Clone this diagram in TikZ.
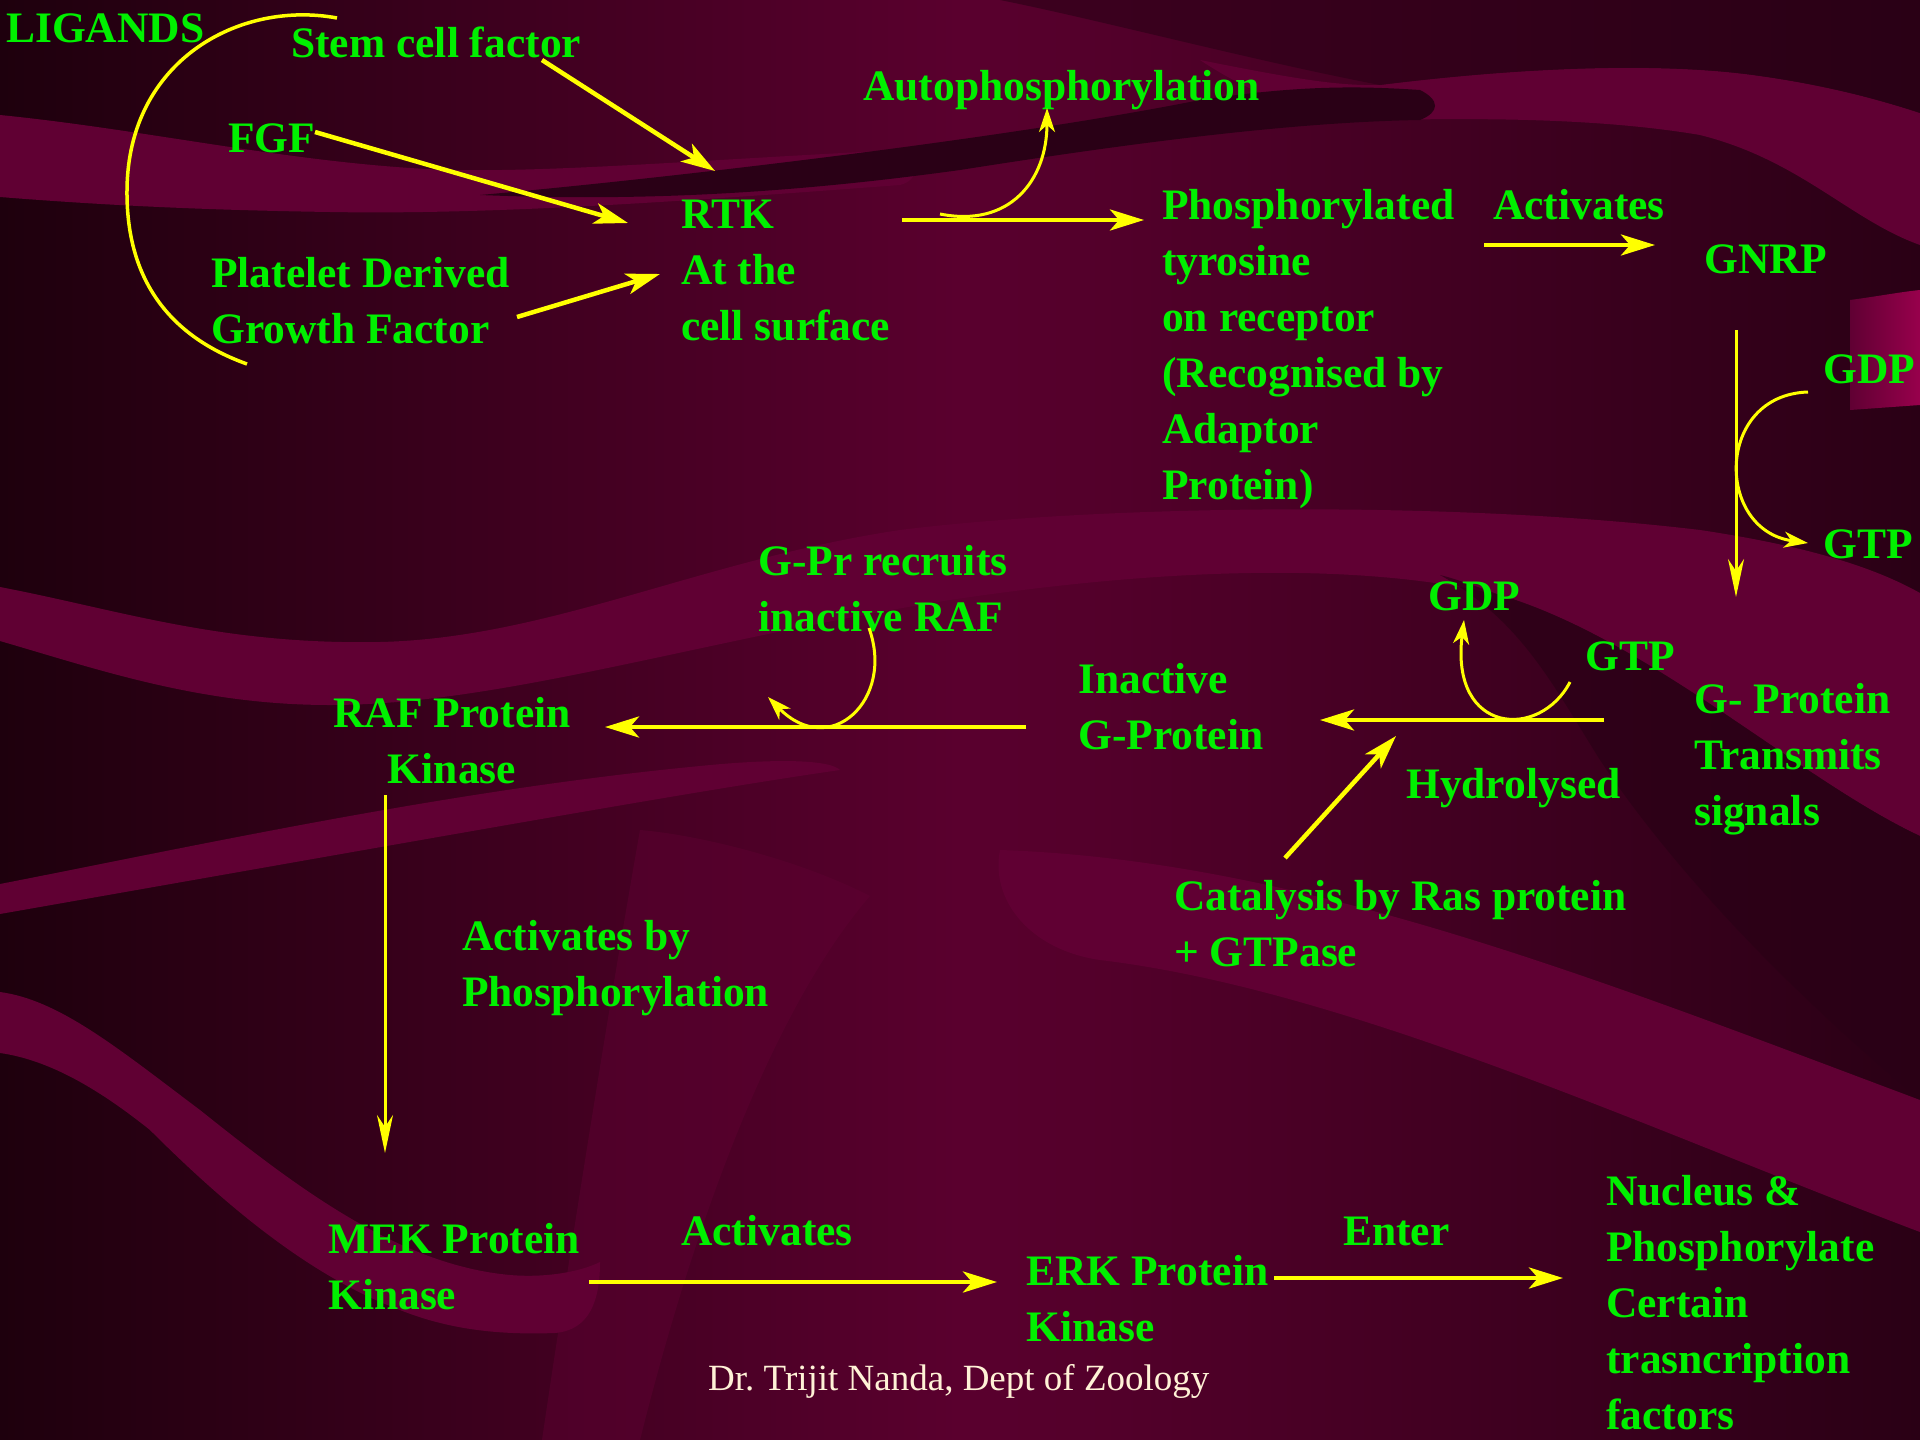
\documentclass[tikz,border=0pt]{standalone}
\usepackage{fontspec}
\setmainfont{Liberation Serif}
\usetikzlibrary{arrows.meta}
\definecolor{ylw}{HTML}{FFFF00}
\definecolor{grn}{HTML}{00F000}
\definecolor{cream}{HTML}{FFF2D6}
\definecolor{bgdark}{HTML}{1E000D}
\definecolor{bgmid}{HTML}{5A002E}
\definecolor{bgright}{HTML}{2A0015}
\definecolor{bandc}{HTML}{600033}
\definecolor{darkc}{HTML}{2A0016}
\definecolor{glow}{HTML}{98004C}
\tikzset{
  lbl/.style={anchor=base west, inner sep=0pt, text=grn, align=left,
    font=\fontsize{43.5}{56}\selectfont\bfseries},
  foot/.style={anchor=base west, inner sep=0pt, text=cream,
    font=\fontsize{37}{44}\selectfont},
  arr/.style={draw=ylw, line width=4.5pt, -{Stealth[length=34pt,width=21pt,inset=9pt]}},
  varr/.style={draw=ylw, line width=3pt, -{Stealth[length=38pt,width=16pt,inset=12pt]}},
  carr/.style={draw=ylw, line width=3pt, -{Stealth[length=24pt,width=16pt,inset=7pt]}},
  band/.style={fill=bandc, draw=none},
  dband/.style={fill=darkc, draw=none},
}
\begin{document}
\begin{tikzpicture}[x=1pt,y=-1pt]
\useasboundingbox (0,0) rectangle (1920,1440);
% ---------- background ----------
\shade[left color=bgdark, right color=bgright, middle color=bgmid] (0,0) rectangle (1920,1440);
% top-left band
\fill[band] (0,115) .. controls (150,130) and (300,165) .. (450,170)
  .. controls (560,172) and (700,160) .. (900,150)
  .. controls (920,160) and (920,180) .. (900,185)
  .. controls (700,200) and (500,215) .. (330,212)
  .. controls (200,210) and (100,205) .. (0,197) -- cycle;
% top-right light band (continuation of the bright area above the stripe)
\fill[band] (1200,60) .. controls (1300,80) and (1340,86) .. (1380,85)
  .. controls (1500,70) and (1650,60) .. (1760,76)
  .. controls (1830,86) and (1880,100) .. (1920,113)
  -- (1920,245) .. controls (1850,220) and (1800,160) .. (1700,135)
  .. controls (1600,118) and (1480,118) .. (1380,120)
  .. controls (1320,118) and (1260,100) .. (1200,60) -- cycle;
% top-right dark corner
\fill[dband, opacity=0.6] (1000,0) -- (1920,0) -- (1920,113)
  .. controls (1880,100) and (1830,86) .. (1760,76)
  .. controls (1650,60) and (1500,70) .. (1380,85)
  .. controls (1250,60) and (1100,20) .. (1000,0) -- cycle;
% dark stripe
\fill[dband] (480,195) .. controls (650,180) and (1000,140) .. (1200,100)
  .. controls (1300,85) and (1360,86) .. (1420,90)
  .. controls (1440,100) and (1440,112) .. (1420,120)
  .. controls (1300,122) and (1150,140) .. (960,170)
  .. controls (800,192) and (650,202) .. (480,195) -- cycle;
% magenta glow
\shade[left color=bandc, right color=glow] (1850,300) .. controls (1880,296) and (1900,292) .. (1920,290)
  -- (1920,405) -- (1850,410) -- cycle;
% middle band (left to right)
\fill[band] (0,587) .. controls (120,610) and (220,645) .. (380,642)
  .. controls (550,638) and (700,560) .. (900,530)
  .. controls (1100,505) and (1450,500) .. (1700,530)
  .. controls (1800,545) and (1870,565) .. (1920,593)
  -- (1920,836) .. controls (1800,780) and (1650,640) .. (1500,595)
  .. controls (1350,560) and (1150,570) .. (950,600)
  .. controls (700,640) and (500,705) .. (330,705)
  .. controls (200,705) and (100,670) .. (0,641) -- cycle;
% diagonal dark band lower right
\fill[dband, opacity=0.7] (1500,595) .. controls (1650,640) and (1800,780) .. (1920,836)
  -- (1920,1100) .. controls (1800,1000) and (1680,880) .. (1600,760)
  .. controls (1550,680) and (1520,620) .. (1440,575)
  .. controls (1460,580) and (1480,588) .. (1500,595) -- cycle;
% diagonal light band lower right
\fill[band] (1000,850) .. controls (1300,860) and (1600,980) .. (1920,1100)
  -- (1920,1232) .. controls (1650,1130) and (1350,990) .. (1100,960)
  .. controls (1030,950) and (990,900) .. (1000,850) -- cycle;
% lower-left rising band
\fill[band] (0,884) .. controls (200,845) and (450,790) .. (700,766)
  .. controls (780,758) and (830,760) .. (840,770)
  .. controls (700,790) and (450,835) .. (0,914) -- cycle;
% faint large curved band
\fill[bandc, opacity=0.45] (640,830) .. controls (610,1000) and (570,1250) .. (542,1440)
  -- (640,1440) .. controls (700,1200) and (780,1000) .. (870,896)
  .. controls (800,860) and (700,835) .. (640,830) -- cycle;
% bottom-left S band
\fill[band] (0,992) .. controls (60,1000) and (120,1050) .. (200,1110)
  .. controls (300,1190) and (400,1265) .. (510,1275)
  .. controls (545,1278) and (580,1272) .. (600,1262)
  .. controls (600,1300) and (590,1330) .. (555,1333)
  .. controls (500,1335) and (450,1330) .. (400,1310)
  .. controls (320,1280) and (240,1220) .. (150,1130)
  .. controls (100,1090) and (50,1060) .. (0,1053) -- cycle;
% ---------- labels ----------
\node[lbl] (lig) at (6,42) {LIGANDS};
\node[lbl] (scf) at (291,57) {Stem cell factor};
\node[lbl] (fgf) at (228,152) {FGF};
\node[lbl] (pdgf) at (211,343) {Platelet Derived\\Growth Factor};
\node[lbl] (rtk) at (681,340) {RTK\\At the\\cell surface};
\node[lbl] (auto) at (863,100) {Autophosphorylation};
\node[lbl] (ptyr) at (1162,499) {Phosphorylated\\tyrosine\\on receptor\\(Recognised by\\Adaptor\\Protein)};
\node[lbl] (act1) at (1493,219) {Activates};
\node[lbl] (gnrp) at (1704,273) {GNRP};
\node[lbl] (gdpa) at (1823,383) {GDP};
\node[lbl] (gtpa) at (1823,558) {GTP};
\node[lbl] (gprot) at (1694,825) {G- Protein\\Transmits\\signals};
\node[lbl] (gdpb) at (1428,610) {GDP};
\node[lbl] (gtpb) at (1585,670) {GTP};
\node[lbl] (inact) at (1078,749) {Inactive\\G-Protein};
\node[lbl] (hydro) at (1406,798) {Hydrolysed};
\node[lbl] (cat) at (1174,966) {Catalysis by Ras protein\\+ GTPase};
\node[lbl] (recr) at (758,631) {G-Pr recruits\\inactive RAF};
\node[lbl, align=center, anchor=base] (raf) at (452,783) {RAF Protein\\Kinase};
\node[lbl] (act2) at (462,1006) {Activates by\\Phosphorylation};
\node[lbl] (mek) at (328,1309) {MEK Protein\\Kinase};
\node[lbl] (act3) at (681,1245) {Activates};
\node[lbl] (erk) at (1026,1341) {ERK Protein\\Kinase};
\node[lbl] (enter) at (1343,1245) {Enter};
\node[lbl] (nuc) at (1606,1429) {Nucleus \&\\Phosphorylate\\Certain\\trasncription\\factors};
\node[foot] (foot) at (708,1390) {Dr.\ Trijit Nanda, Dept of Zoology};
% ---------- connector end points ----------
\coordinate (scfE) at (542,60);   \coordinate (rtkA) at (715,171);
\coordinate (fgfE) at (315,132);  \coordinate (rtkB) at (628,223);
\coordinate (pdgfE) at (517,317); \coordinate (rtkC) at (660,274);
\coordinate (rtkE) at (902,220);  \coordinate (ptyrW) at (1144,220);
\coordinate (autoS) at (940,214); \coordinate (autoT) at (1047,108);
\coordinate (act1S) at (1484,245); \coordinate (gnrpW) at (1655,245);
\coordinate (gnrpS) at (1736,330); \coordinate (gprotN) at (1736,597);
\coordinate (gdpaW) at (1808,392); \coordinate (gtpaW) at (1808,543);
\coordinate (hydS) at (1604,720); \coordinate (inactE) at (1320,720);
\coordinate (gtpbS) at (1570,682); \coordinate (gdpbT) at (1464,620);
\coordinate (catN) at (1285,858); \coordinate (catT) at (1396,736);
\coordinate (inactW) at (1026,727); \coordinate (rafE) at (605,727);
\coordinate (recrS) at (869,628); \coordinate (recrT) at (768,697);
\coordinate (rafS) at (385,795); \coordinate (mekN) at (385,1153);
\coordinate (mekE) at (589,1282); \coordinate (erkW) at (997,1282);
\coordinate (erkE) at (1274,1278); \coordinate (nucW) at (1563,1278);
\coordinate (brA) at (337,18); \coordinate (brB) at (127,190); \coordinate (brC) at (247,364);
% ---------- connectors ----------
\draw[draw=ylw, line width=3.5pt] (brA) .. controls (240,0) and (128,60) .. (brB)
  .. controls (126,290) and (180,340) .. (brC);
\draw[arr] (scfE) -- (rtkA);
\draw[arr] (fgfE) -- (rtkB);
\draw[arr] (pdgfE) -- (rtkC);
\draw[arr] (rtkE) -- (ptyrW);
\draw[carr] (autoS) .. controls (1010,228) and (1047,180) .. (autoT);
\draw[arr] (act1S) -- (gnrpW);
\draw[varr] (gnrpS) -- (gprotN);
\draw[carr] (gdpaW) .. controls (1715,395) and (1715,530) .. (gtpaW);
\draw[arr] (hydS) -- (inactE);
\draw[carr] (gtpbS) .. controls (1540,740) and (1450,735) .. (gdpbT);
\draw[arr] (catN) -- (catT);
\draw[arr] (inactW) -- (rafE);
\draw[carr] (recrS) .. controls (895,700) and (830,760) .. (recrT);
\draw[varr] (rafS) -- (mekN);
\draw[arr] (mekE) -- (erkW);
\draw[arr] (erkE) -- (nucW);
\end{tikzpicture}
\end{document}
